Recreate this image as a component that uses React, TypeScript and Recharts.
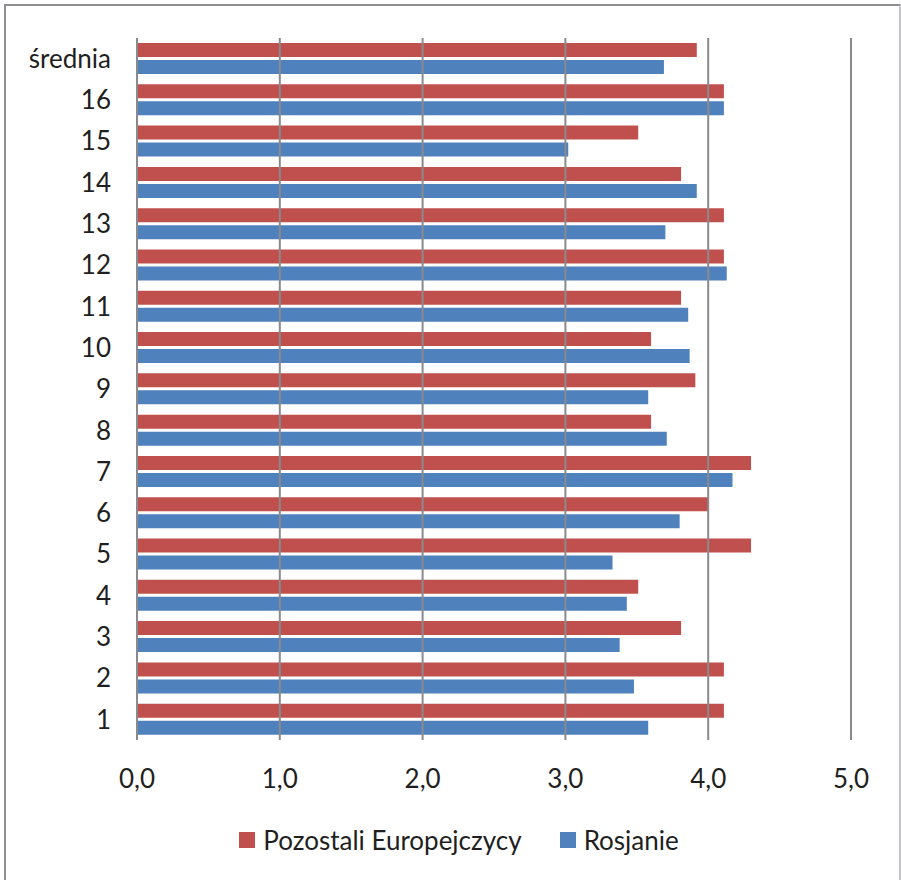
import { BarChart, Bar, XAxis, YAxis, Legend, ReferenceLine } from "recharts";

// categories from bottom (1) to top (średnia)
const categories = ["1", "2", "3", "4", "5", "6", "7", "8", "9", "10", "11", "12", "13", "14", "15", "16", "średnia"];
const europeans = [4.11, 4.11, 3.81, 3.51, 4.3, 4.0, 4.3, 3.6, 3.91, 3.6, 3.81, 4.11, 4.11, 3.81, 3.51, 4.11, 3.92];
const russians = [3.58, 3.48, 3.38, 3.43, 3.33, 3.8, 4.17, 3.71, 3.58, 3.87, 3.86, 4.13, 3.7, 3.92, 3.02, 4.11, 3.69];
const xTicks = [0, 1, 2, 3, 4, 5];

const RED = "#C0504D";
const BLUE = "#4F81BD";
const GRID = "#8a8a8e";
const FONT = "Lato, 'Open Sans', sans-serif";

const data = categories.map((c, i) => ({
  name: c,
  europe: europeans[i],
  russia: russians[i],
}));

const LegendBox = () => (
  <div
    style={{
      display: "flex",
      justifyContent: "center",
      alignItems: "center",
      fontFamily: FONT,
      fontSize: 26,
      color: "#1f1f1f",
      paddingLeft: 17,
    }}
  >
    <span style={{ width: 16, height: 16, background: RED, display: "inline-block", marginRight: 8 }} />
    <span style={{ marginRight: 38 }}>Pozostali Europejczycy</span>
    <span style={{ width: 16, height: 16, background: BLUE, display: "inline-block", marginRight: 8 }} />
    <span>Rosjanie</span>
  </div>
);

export default function App() {
  return (
    <div style={{ position: "absolute", left: 0, top: 0, width: 901, height: 880, background: "#fff", overflow: "hidden" }}>
      <div
        style={{
          position: "absolute",
          left: 4,
          top: 4,
          width: 893,
          height: 900,
          border: "2px solid #8e8e92",
          borderRightColor: "#c4c4c8",
        }}
      />
      <BarChart
        width={901}
        height={880}
        data={data}
        layout="vertical"
        margin={{ top: 38, right: 50, left: 0, bottom: 80 }}
        barSize={14}
        barGap={3}
        style={{ fontFamily: FONT }}
      >
        <XAxis
          type="number"
          domain={[0, 5]}
          ticks={xTicks}
          allowDataOverflow
          height={60}
          axisLine={false}
          tickLine={false}
          tickSize={0}
          tickMargin={30}
          tickFormatter={(v: number) => v.toFixed(1).replace(".", ",")}
          tick={{ fill: "#1f1f1f", fontSize: 26, fontFamily: FONT }}
        />
        <YAxis
          type="category"
          dataKey="name"
          reversed
          width={137}
          axisLine={{ stroke: GRID, strokeWidth: 2 }}
          tickLine={false}
          tickSize={0}
          tickMargin={26}
          interval={0}
          tick={{ fill: "#1f1f1f", fontSize: 26, fontFamily: FONT }}
        />
        <Bar dataKey="europe" name="Pozostali Europejczycy" fill={RED} isAnimationActive={false} />
        <Bar dataKey="russia" name="Rosjanie" fill={BLUE} isAnimationActive={false} />
        {xTicks.slice(1).map((t) => (
          <ReferenceLine key={t} x={t} stroke={GRID} strokeWidth={2} />
        ))}
        <Legend
          verticalAlign="middle"
          layout="horizontal"
          content={<LegendBox />}
          wrapperStyle={{ top: 824, left: 0, width: 901 }}
        />
      </BarChart>
    </div>
  );
}
